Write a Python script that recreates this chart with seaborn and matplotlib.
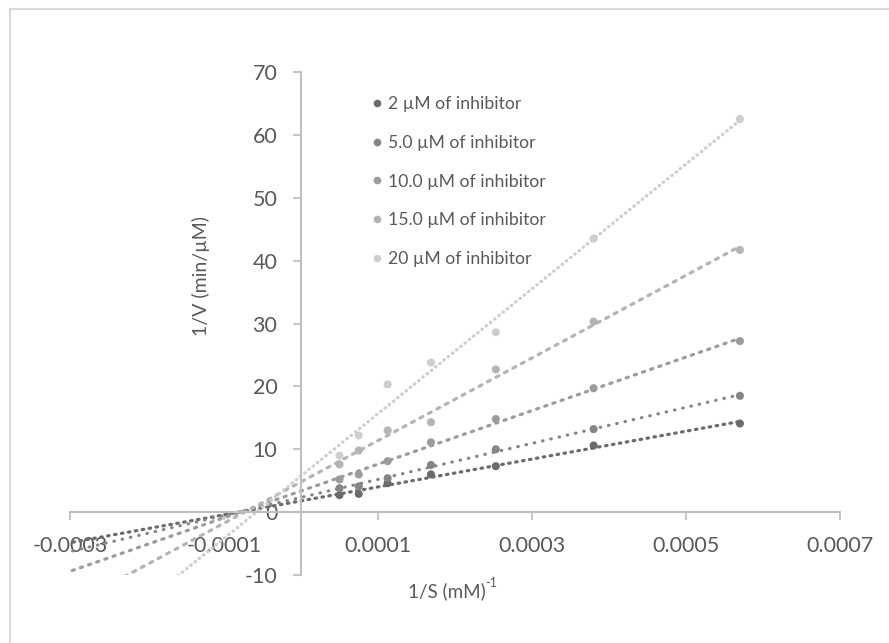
import numpy as np
import pandas as pd
import matplotlib
matplotlib.use("Agg")
import matplotlib.pyplot as plt
import seaborn as sns
from matplotlib.lines import Line2D

# 1/S values (mM^-1) shared by all series
inv_s = [0.00005, 0.000075, 0.0001125, 0.00016875, 0.000253, 0.00038, 0.00057]

# 1/V values (min/uM) for each inhibitor concentration
inh_2 = [2.7, 2.9, 4.6, 6.0, 7.3, 10.6, 14.1]
inh_5 = [3.8, 4.1, 5.4, 7.5, 10.0, 13.2, 18.5]
inh_10 = [5.2, 6.0, 8.1, 11.1, 14.8, 19.7, 27.2]
inh_15 = [7.6, 9.8, 13.0, 14.3, 22.7, 30.3, 41.7]
inh_20 = [9.0, 12.2, 20.3, 23.8, 28.6, 43.5, 62.5]

labels = ["2 µM of inhibitor", "5.0 µM of inhibitor", "10.0 µM of inhibitor",
          "15.0 µM of inhibitor", "20 µM of inhibitor"]
x_ticks = [-0.0003, -0.0001, 0.0001, 0.0003, 0.0005, 0.0007]
x_ticklabels = ["-0.0003", "-0.0001", "0.0001", "0.0003", "0.0005", "0.0007"]
y_ticks = [-10, 0, 10, 20, 30, 40, 50, 60, 70]

colors = ["#6b6b6b", "#858585", "#9c9c9c", "#b4b4b4", "#cecece"]
# excel-like trendline dash patterns (in linewidth units, round caps)
dashes = [(0, (0.5, 1.7)), (0, (0.15, 2.5)), (0, (0.7, 2.0)), (0, (1.0, 2.0)), (0, (0.2, 1.5))]
text_col = "#595959"
axis_col = "#bfbfbf"

sns.set_theme(style="white")
plt.rcParams["font.family"] = ["Lato", "DejaVu Sans"]
plt.rcParams["axes.unicode_minus"] = False

rows = []
for lab, ys in zip(labels, [inh_2, inh_5, inh_10, inh_15, inh_20]):
    for xv, yv in zip(inv_s, ys):
        rows.append({"x": xv, "y": yv, "series": lab})
df = pd.DataFrame(rows)

fig = plt.figure(figsize=(8.89, 6.43), dpi=100)
ax = fig.add_axes([70 / 889, 1 - 575 / 643, 770 / 889, 503 / 643])

# trendlines (linear fit, forecast backward)
for i, lab in enumerate(labels):
    sub = df[df["series"] == lab]
    slope, icpt = np.polyfit(sub["x"], sub["y"], 1)
    xs = np.linspace(-0.00035, sub["x"].max(), 200)
    ax.plot(xs, slope * xs + icpt, color=colors[i], lw=2.3,
            linestyle=dashes[i], dash_capstyle="round", zorder=2)

sns.scatterplot(data=df, x="x", y="y", hue="series", palette=colors,
                hue_order=labels, s=34, edgecolor="none", ax=ax, zorder=3,
                legend=False)

ax.set_xlim(-0.0003, 0.0007)
ax.set_ylim(-10, 70)
ax.set_xticks(x_ticks)
ax.set_xticklabels(x_ticklabels)
ax.set_yticks(y_ticks)
ax.tick_params(axis="x", direction="out", length=6, width=1.3, color=axis_col,
               labelsize=15.5, labelcolor=text_col, pad=11)
ax.tick_params(axis="y", direction="out", length=6, width=1.3, color=axis_col,
               labelsize=15.5, labelcolor=text_col, pad=11)
ax.tick_params(bottom=True, left=True)

for s in ["top", "right"]:
    ax.spines[s].set_visible(False)
ax.spines["left"].set_position(("data", 0))
ax.spines["bottom"].set_position(("data", 0))
for s in ["left", "bottom"]:
    ax.spines[s].set_color(axis_col)
    ax.spines[s].set_linewidth(1.5)

ax.set_xlabel("")
ax.set_ylabel("")
fig.text(201 / 889, 1 - 276 / 643, "1/V (min/µM)", rotation=90, ha="center",
         va="center", fontsize=14, color=text_col)
xl = fig.text(447 / 889, 1 - 591 / 643, "1/S (mM)", ha="center", va="center",
              fontsize=13.5, color=text_col)
fig.canvas.draw()
bb = xl.get_window_extent()
fig.text((bb.x1 - 0.5) / 889, (bb.y1 - 7) / 643, "-1", ha="left", va="bottom",
         fontsize=9, color=text_col)

handles = [Line2D([], [], marker="o", linestyle="none", markersize=5.5,
                  markerfacecolor=c, markeredgecolor="none") for c in colors]
leg = ax.legend(handles, labels, loc="upper left",
                bbox_to_anchor=(365 / 889, 1 - 89 / 643),
                bbox_transform=fig.transFigure, frameon=False, fontsize=12.7,
                labelspacing=1.29, handlelength=0.6, handletextpad=0.3,
                borderaxespad=0)
for t in leg.get_texts():
    t.set_color(text_col)

# chart area border (top and left visible in the crop)
fig.add_artist(Line2D([10 / 889, 1], [1 - 9 / 643, 1 - 9 / 643], color="#d9d9d9",
                      lw=1.5, transform=fig.transFigure))
fig.add_artist(Line2D([10 / 889, 10 / 889], [0, 1 - 9 / 643], color="#d9d9d9",
                      lw=1.5, transform=fig.transFigure))

fig.savefig("out.png", dpi=100)
